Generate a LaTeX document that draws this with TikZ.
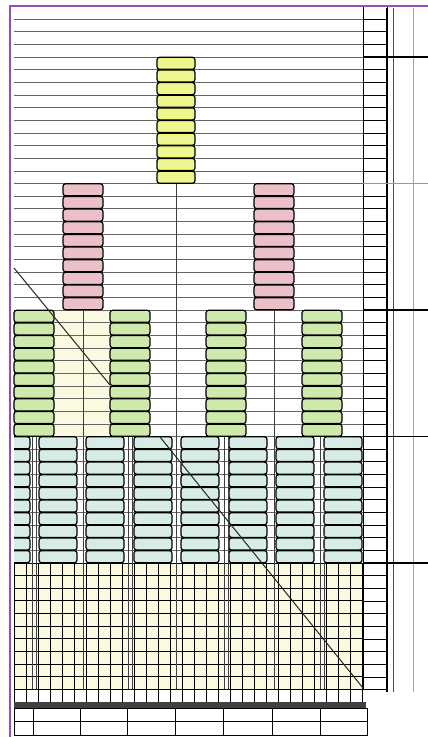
\documentclass[tikz,border=0pt]{standalone}
\usepackage{tikz}
\usetikzlibrary{positioning, calc}
\definecolor{framePurple}{RGB}{150,78,182}
\definecolor{yelFill}{RGB}{238,246,140}
\definecolor{pinkFill}{RGB}{236,192,200}
\definecolor{greenFill}{RGB}{206,233,172}
\definecolor{cyanFill}{RGB}{214,236,228}
\definecolor{paleFill}{RGB}{249,250,224}
\begin{document}
\begin{tikzpicture}[x=1pt, y=-1pt,
    cell/.style={draw, line width=1.2pt, rounded corners=2.5pt, minimum height=12pt, inner sep=0pt},
    rowline/.style={black!60, line width=0.7pt},
    gridline/.style={black, line width=1pt},
    link/.style={black!75, line width=0.6pt},
    sidecell/.style={draw, line width=0.7pt}
  ]
    \useasboundingbox (0,0) rectangle (428,737);
    \def\h{12.65}

    % Pale backgrounds
    \fill[paleFill] (54,310) rectangle (110,436.5);
    \fill[paleFill] (14,563) rectangle (363,689.5);

    % Row lines of the sheet
    \foreach \r in {1,...,44}
      \draw[rowline] (14,{6.4+\h*\r}) -- (363,{6.4+\h*\r});

    % Right column of row labels
    \foreach \r in {0,...,53}
      \draw[sidecell] (363,{6.4+\h*\r}) rectangle (387,{6.4+\h*(\r+1)});
    \draw[line width=1.4pt] (387,8) -- (387,692);
    \draw[black!70, line width=0.7pt] (393,8) -- (393,692);
    \draw[black!35, line width=0.6pt] (413,8) -- (413,692);
    \foreach \y in {57,310,436.5,563}
      \draw[line width=1.3pt] (363,\y) -- (428,\y);
    \draw[black!40, line width=0.6pt] (363,183.5) -- (428,183.5);

    % Level 1: yellow stack
    \foreach \k in {1,...,10}
      \node[cell, fill=yelFill, minimum width=38pt] (yel-\k) at (176,{57+\h*(\k-0.5)}) {};

    % Level 2: pink stacks
    \foreach \c/\x in {a/83, b/274}
      \foreach \k in {1,...,10}
        \node[cell, fill=pinkFill, minimum width=40pt] (pink\c-\k) at (\x,{183.5+\h*(\k-0.5)}) {};

    % Level 3: green stacks
    \foreach \c/\x in {a/34, b/130, c/226, d/322}
      \foreach \k in {1,...,10}
        \node[cell, fill=greenFill, minimum width=40pt] (green\c-\k) at (\x,{310+\h*(\k-0.5)}) {};

    % Level 4: cyan stacks
    \begin{scope}
      \clip (14,0) rectangle (428,737);
      \foreach \c/\x in {a/11, b/58, c/105, d/153, e/200, f/248, g/295, h/343}
        \foreach \k in {1,...,10}
          \node[cell, fill=cyanFill, minimum width=38pt] (cyan\c-\k) at (\x,{436.5+\h*(\k-0.5)}) {};
    \end{scope}

    % Level 5: grid
    \foreach \r in {0,...,10}
      \draw[gridline] (14,{563+\h*\r}) -- (363,{563+\h*\r});
    \foreach \i in {0,...,29}
      \draw[gridline] ({14+12*\i},563) -- ({14+12*\i},689.5);

    % Links down the tree
    \coordinate (foot) at (0,689.5);
    \draw[link] (yel-10.south) -- (yel-10.south |- foot);
    \foreach \c in {a,b}
      \draw[link] (pink\c-10.south) -- (pink\c-10.south |- foot);
    \foreach \c in {a,b,c,d} {
      \draw[link] ($(green\c-10.south)+(-1.8,0)$) -- ($(green\c-10.south |- foot)+(-1.8,0)$);
      \draw[link] ($(green\c-10.south)+(1.8,0)$) -- ($(green\c-10.south |- foot)+(1.8,0)$);
    }

    % Diagonals
    \coordinate (diagA1) at (14,268);
    \coordinate (diagA2) at (110,385);
    \coordinate (diagB1) at (160,437);
    \coordinate (diagB2) at (363,688);
    \draw[black!85, line width=1pt] (diagA1) -- (diagA2);
    \draw[black!85, line width=1pt] (diagB1) -- (diagB2);

    % Footer rows
    \foreach \i in {0,...,28}
      \draw[sidecell] ({14+12*\i},689.5) rectangle ({26+12*\i},702);
    \fill[black!75] (14,702) rectangle (366,708);
    \draw[sidecell] (14,708) rectangle (367,735);
    \draw[sidecell] (14,721.5) -- (367,721.5);
    \foreach \x in {33,80,127,175,223,272,320}
      \draw[sidecell] (\x,708) -- (\x,735);

    % Frame
    \draw[framePurple, line width=2.5pt] (10,737) -- (10,6) -- (428,6);
\end{tikzpicture}
\end{document}
